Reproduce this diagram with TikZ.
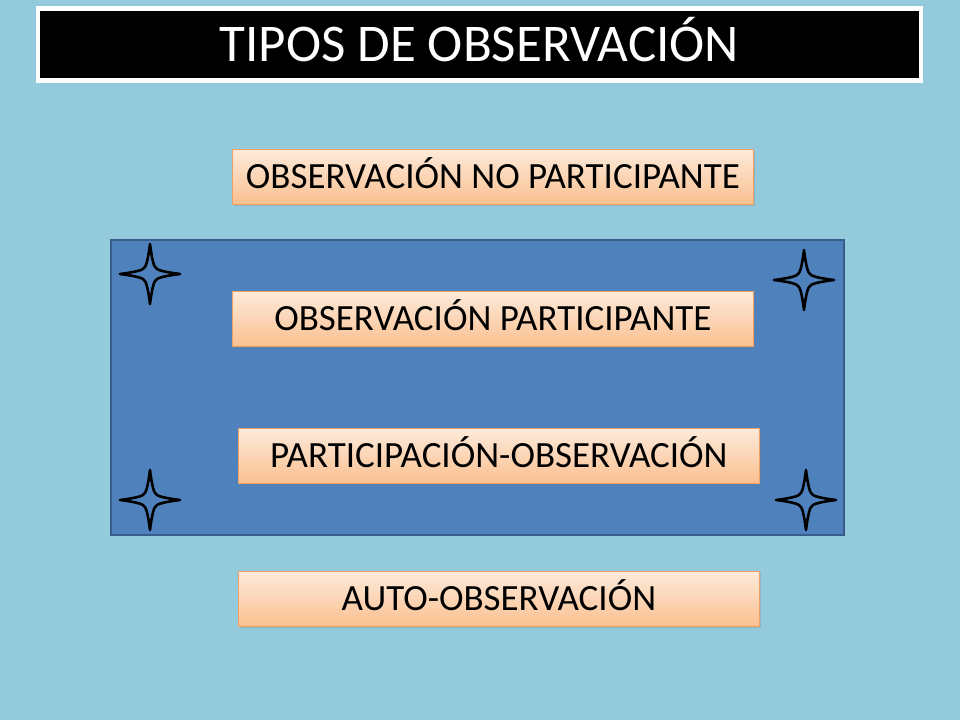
\documentclass[tikz,border=0pt]{standalone}
\usepackage{fontspec}
\setmainfont{Carlito}
\usetikzlibrary{shadows}
\definecolor{bgc}{RGB}{147,203,220}
\definecolor{panelc}{RGB}{79,129,189}
\definecolor{paneld}{RGB}{56,93,138}
\definecolor{peachtop}{RGB}{253,234,218}
\definecolor{peachbot}{RGB}{250,192,144}
\definecolor{peachline}{RGB}{240,160,100}
\tikzset{
  obsbox/.style={draw=peachline, line width=0.8pt, top color=peachtop, bottom color=peachbot,
    minimum width=521pt, minimum height=55pt, anchor=north west, inner sep=0pt,
    font=\fontsize{37}{40}\selectfont, text=black, text height=23.8pt, text depth=0pt,
    drop shadow={shadow xshift=1.5pt, shadow yshift=-1.5pt, opacity=0.3}},
  fourstar/.pic={
    \draw[black, line width=2.6pt, line join=round]
      (0,-30) .. controls (2,-14) and (4,-7) .. (6,-6)
      .. controls (7,-4) and (14,-2) .. (30,0)
      .. controls (14,2) and (7,4) .. (6,6)
      .. controls (4,7) and (2,14) .. (0,30)
      .. controls (-2,14) and (-4,7) .. (-6,6)
      .. controls (-7,4) and (-14,2) .. (-30,0)
      .. controls (-14,-2) and (-7,-4) .. (-6,-6)
      .. controls (-4,-7) and (-2,-14) .. (0,-30) -- cycle;
  }
}
\begin{document}
\begin{tikzpicture}[x=1pt,y=-1pt]
\useasboundingbox (0,0) rectangle (960,720);
\fill[bgc] (0,0) rectangle (960,720);
% title
\node[anchor=north west, fill=black, draw=white, line width=4.5pt, minimum width=883pt, minimum height=72pt,
  inner sep=0pt, text=white, font=\fontsize{53}{56}\selectfont, text height=34pt, text depth=0pt,
  drop shadow={shadow xshift=2pt, shadow yshift=-2pt, opacity=0.3}] (title) at (35.5,6) {TIPOS DE OBSERVACIÓN};
\node[obsbox] (nopart) at (232,149) {OBSERVACIÓN NO PARTICIPANTE};
% panel
\node[anchor=north west, fill=panelc, draw=paneld, line width=1.5pt, minimum width=733pt, minimum height=295pt, inner sep=0pt] (panel) at (110,239) {};
\pic at (150,274) {fourstar};
\pic at (804,280) {fourstar};
\pic at (150,500) {fourstar};
\pic at (806,500) {fourstar};
\node[obsbox] (part) at (232,291) {OBSERVACIÓN PARTICIPANTE};
\node[obsbox] (partobs) at (238,428) {PARTICIPACIÓN-OBSERVACIÓN};
\node[obsbox] (auto) at (238,571) {AUTO-OBSERVACIÓN};
\end{tikzpicture}
\end{document}
